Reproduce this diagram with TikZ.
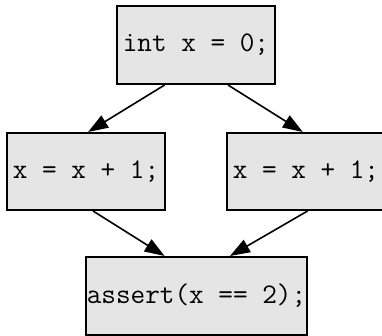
\documentclass[tikz,border=0pt]{standalone}
\usetikzlibrary{arrows.meta,calc}
\definecolor{boxfill}{HTML}{E5E5E5}
\begin{document}
\begin{tikzpicture}[x=0.5pt,y=-0.5pt,
  codebox/.style={draw=black,line width=1pt,fill=boxfill,rectangle,inner sep=0pt,
    font=\fontsize{14.2}{17}\selectfont\ttfamily},
  flow/.style={line width=0.8pt,-{Triangle[length=10pt,width=7pt]}}]
\useasboundingbox (0,0) rectangle (382,336);
\node[codebox,minimum width=79pt,minimum height=39pt] (top) at (196,45) {int x = 0;};
\node[codebox,minimum width=79pt,minimum height=38.5pt] (left) at (86,171.5) {x = x + 1;};
\node[codebox,minimum width=79pt,minimum height=38.5pt] (right) at (306,171.5) {x = x + 1;};
\node[codebox,minimum width=110.5pt,minimum height=39pt] (bot) at (196.5,296) {assert(x == 2);};
\draw[flow] ($(top.south west)!0.304!(top.south east)$) -- ($(left.north west)!0.513!(left.north east)$);
\draw[flow] ($(top.south west)!0.70!(top.south east)$) -- ($(right.north west)!0.48!(right.north east)$);
\draw[flow] ($(left.south west)!0.544!(left.south east)$) -- ($(bot.north west)!0.357!(bot.north east)$);
\draw[flow] ($(right.south west)!0.51!(right.south east)$) -- ($(bot.north west)!0.65!(bot.north east)$);
\end{tikzpicture}
\end{document}
